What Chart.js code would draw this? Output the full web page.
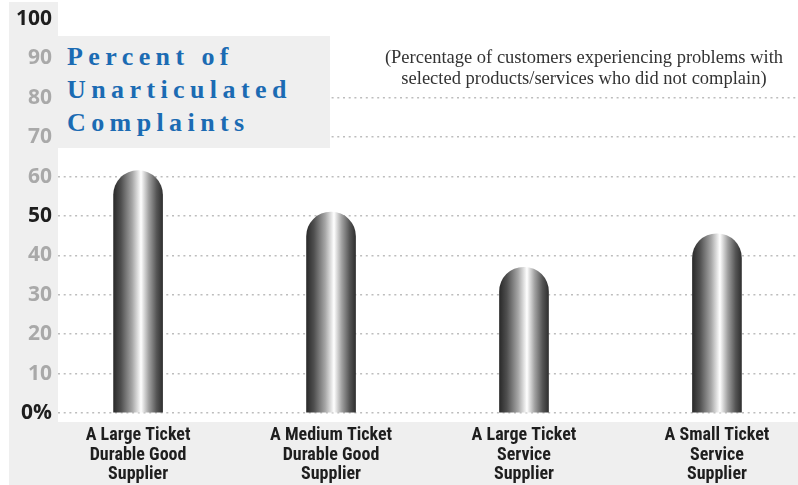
<!DOCTYPE html>
<html>
<head>
<meta charset="utf-8">
<script src="https://cdn.jsdelivr.net/npm/chart.js@4.4.1/dist/chart.umd.min.js"></script>
<style>
  html, body { margin: 0; padding: 0; background: #ffffff; }
  #wrap { position: relative; width: 798px; height: 485px; overflow: hidden; background: #ffffff; }
  .panel { position: absolute; background: #efefef; }
  #leftcol { left: 9px; top: 2px; width: 49px; height: 483px; }
  #bottomband { left: 9px; top: 422px; width: 789px; height: 63px; }
  #chart { position: absolute; left: 0; top: 0; }
  #titlebox { position: absolute; left: 58px; top: 36px; width: 272px; height: 112px; background: #efefef;
    box-sizing: border-box; padding: 4px 0 0 9px; font-family: 'Liberation Serif', serif; font-size: 26px; font-weight: bold;
    letter-spacing: 5.4px; line-height: 33px; color: #1b6bb3; white-space: nowrap; }
  #subtitle { position: absolute; left: 364px; top: 47px; width: 440px; text-align: center;
    font-family: 'Liberation Serif', serif; font-size: 18.5px; line-height: 21px; color: #333; white-space: nowrap; }
</style>
</head>
<body>
<div id="wrap">
  <div class="panel" id="leftcol"></div>
  <div class="panel" id="bottomband"></div>
  <canvas id="chart" width="798" height="485"></canvas>
  <div id="titlebox">Percent of<br>Unarticulated<br>Complaints</div>
  <div id="subtitle">(Percentage of customers experiencing problems with<br>selected products/services who did not complain)</div>
</div>
<script>
const categories = [
  ["A Large Ticket", "Durable Good", "Supplier"],
  ["A Medium Ticket", "Durable Good", "Supplier"],
  ["A Large Ticket", "Service", "Supplier"],
  ["A Small Ticket", "Service", "Supplier"]
];
const percentValues = [61.5, 51, 37, 45.5];
const yTickValues = [0, 10, 20, 30, 40, 50, 60, 70, 80, 90, 100];
const darkTicks = [0, 50, 100];
const hiddenGrid = [90, 100];

const points = percentValues.map((v, i) => ({ x: i, y: v }));

function barGradient(c) {
  const chart = c.chart;
  const xs = chart.scales && chart.scales.x;
  if (!chart.chartArea || !xs) return '#777777';
  const cx = xs.getPixelForValue(c.dataIndex);
  const half = 24.5;
  const g = chart.ctx.createLinearGradient(cx - half, 0, cx + half, 0);
  g.addColorStop(0.00, '#2a2a2a');
  g.addColorStop(0.15, '#4f4f4f');
  g.addColorStop(0.38, '#a6a6a6');
  g.addColorStop(0.56, '#ffffff');
  g.addColorStop(0.72, '#a0a0a0');
  g.addColorStop(0.88, '#555555');
  g.addColorStop(1.00, '#303030');
  return g;
}

new Chart(document.getElementById('chart'), {
  type: 'bar',
  data: {
    datasets: [{
      data: points,
      backgroundColor: barGradient,
      borderWidth: 0,
      barThickness: 49,
      borderRadius: { topLeft: 25, topRight: 25, bottomLeft: 0, bottomRight: 0 },
      borderSkipped: 'start'
    }]
  },
  options: {
    responsive: false,
    devicePixelRatio: 1,
    animation: false,
    layout: { padding: { top: 19, right: 0, left: 0, bottom: 0 } },
    plugins: { legend: { display: false }, tooltip: { enabled: false }, title: { display: false } },
    scales: {
      x: {
        type: 'linear',
        offset: false,
        min: -0.415,
        max: 3.42,
        grid: { display: false, drawTicks: false, offset: false },
        border: { display: false },
        afterFit: (a) => { a.height = 72; },
        ticks: {
          stepSize: 1,
          includeBounds: false,
          autoSkip: false,
          maxRotation: 0,
          padding: 13,
          color: '#1e1e1e',
          font: { family: "'Liberation Sans Narrow', 'Roboto Condensed', Roboto, sans-serif", size: 18, weight: 'bold', lineHeight: 1.08 },
          callback: (v) => (Number.isInteger(v) && categories[v]) ? categories[v] : ''
        }
      },
      y: {
        min: 0,
        max: 100,
        afterFit: (a) => { a.width = 58; },
        afterBuildTicks: (a) => { a.ticks = yTickValues.map(v => ({ value: v })); },
        border: { display: false, dash: [2, 3.7] },
        grid: {
          drawTicks: false,
          lineWidth: 1.5,
          color: (c) => hiddenGrid.includes(c.tick && c.tick.value) ? 'rgba(0,0,0,0)' : '#bdbdbd'
        },
        ticks: {
          padding: 6,
          color: (c) => darkTicks.includes(c.tick.value) ? '#1e1e1e' : '#a9a9a9',
          font: { family: "'Open Sans', sans-serif", size: 21, weight: 'bold' },
          callback: (v) => v === 0 ? '0%' : String(v)
        }
      }
    }
  }
});
</script>
</body>
</html>
